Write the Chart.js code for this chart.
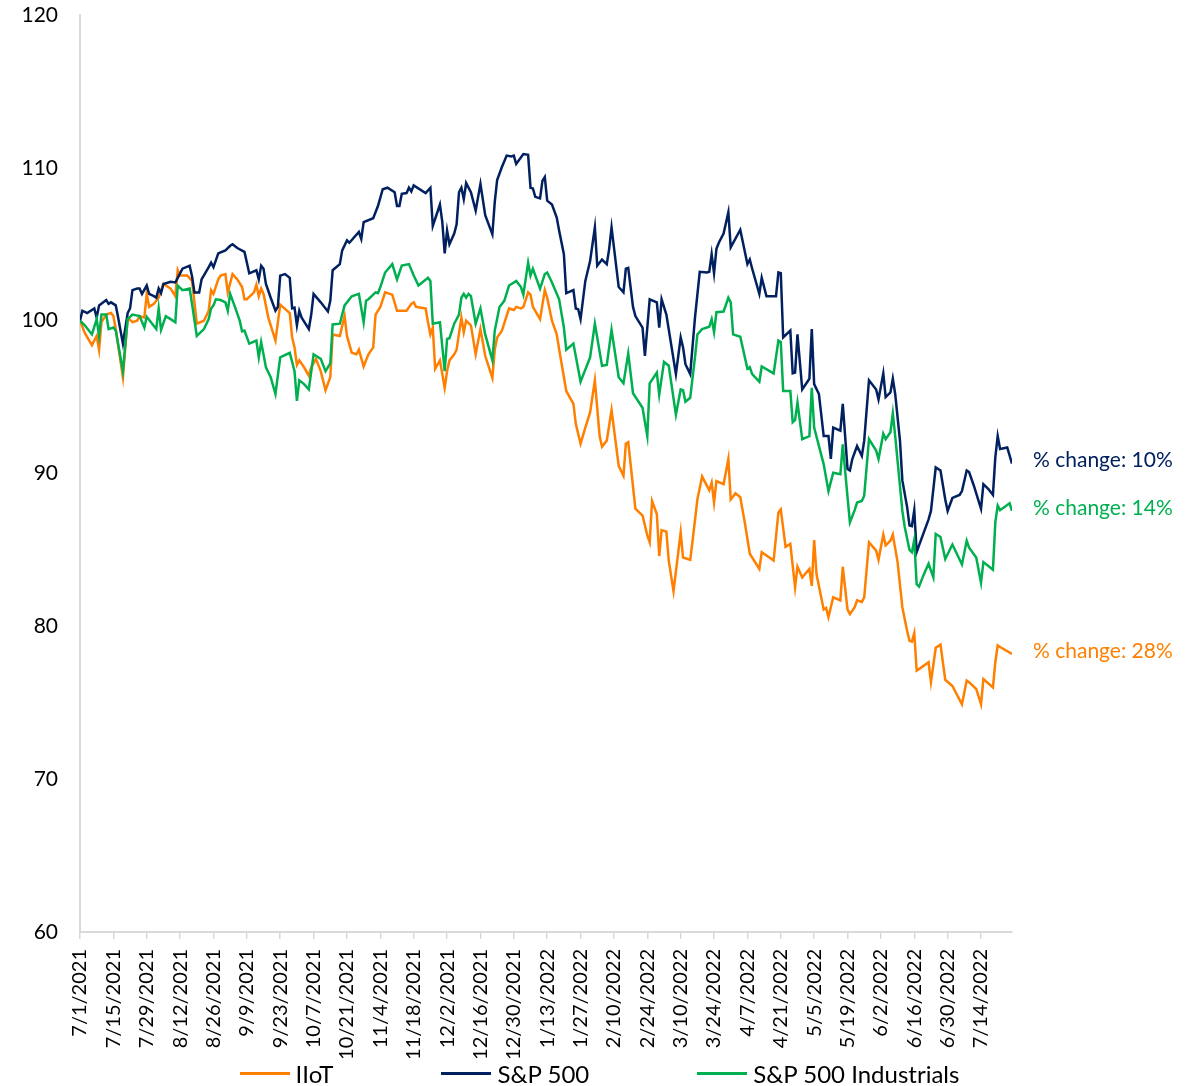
<!DOCTYPE html>
<html>
<head>
<meta charset="utf-8">
<title>IIoT vs S&amp;P 500</title>
<script src="https://cdn.jsdelivr.net/npm/chart.js@4.4.1/dist/chart.umd.min.js"></script>
<style>
    body { margin: 0; background: #ffffff; }
    #wrap { position: relative; width: 1199px; height: 1086px; }
    #legend {
        position: absolute; left: 0; top: 1056px; width: 1199px; height: 34px;
        display: flex; justify-content: center; align-items: center; gap: 108px;
        font-family: Lato, 'Open Sans', sans-serif; font-size: 24px; color: #000;
    }
    .item { display: flex; align-items: center; }
    .swatch { width: 50px; height: 3px; margin-right: 6px; }
</style>
</head>
<body>
<div id="wrap">
    <canvas id="perfChart" width="1199" height="1086"></canvas>
    <div id="legend"></div>
</div>
<script>
// Ngày tính từ 7/1/2021 (ngày 0)
const tickDays = [0, 14, 28, 42, 56, 70, 84, 98, 112, 126, 140, 154, 168, 182, 196, 210, 224, 238, 252, 266, 280, 294, 308, 322, 336, 350, 364, 378];

// IIoT
const iotDays = [0,2,5,7,8,9,11,13,14,15,18,20,22,24,25,27,28,29,31,33,35,38,40,41,42,45,47,49,52,54,55,56,58,59,61,62,64,66,68,69,70,73,74,75,76,77,79,82,84,88,89,90,91,92,94,96,97,99,101,103,105,106,109,111,112,114,116,117,119,120,121,123,124,126,128,130,131,133,137,139,140,141,145,146,147,148,149,151,153,154,155,157,158,160,161,162,164,166,168,170,173,174,175,177,180,182,183,185,186,188,189,190,193,195,196,198,200,201,204,207,208,210,212,214,216,218,219,221,223,226,228,229,230,233,236,238,239,240,242,243,244,246,247,249,252,253,256,257,259,261,264,265,266,267,270,272,273,275,277,279,281,285,286,291,293,294,296,298,300,301,303,306,307,308,309,312,313,314,316,319,320,322,323,325,326,328,329,331,334,335,337,338,340,341,343,345,347,348,349,350,351,352,356,357,359,361,363,366,370,372,373,376,378,379,383,384,385,386,391];
const iotValues = [100.0,99.2,98.4,99.0,98.1,99.9,100.4,100.5,100.3,99.45,96.3,100.2,99.9,100.0,100.3,100.2,101.75,100.9,101.1,101.5,102.4,102.1,101.6,103.3,102.95,102.95,102.6,99.8,100.0,100.65,102.0,101.75,102.7,102.95,103.05,101.85,103.05,102.7,102.2,101.4,101.4,101.85,102.35,101.6,102.1,101.75,100.2,98.7,101.05,100.5,98.9,98.25,97.1,97.4,96.95,96.4,96.95,97.5,96.7,95.45,96.3,99.1,99.0,100.3,99.0,97.9,97.8,98.1,97.0,97.4,97.8,98.25,100.4,100.9,101.85,101.75,101.7,100.65,100.65,101.1,101.2,100.9,100.8,99.9,99.1,99.55,96.85,97.4,95.6,96.7,97.4,97.8,98.1,100.2,99.25,100.0,99.7,97.8,99.45,97.7,96.25,98.1,98.9,99.35,100.8,100.7,100.9,100.8,100.9,101.85,101.7,100.9,100.1,102.0,101.5,100.0,99.1,98.15,95.4,94.55,93.25,91.95,93.0,94.0,96.1,92.45,91.75,92.15,94.15,90.5,89.85,91.95,92.05,87.7,87.25,85.95,85.5,88.2,87.35,84.6,86.3,86.2,84.3,82.3,86.15,84.5,84.35,85.6,88.3,89.8,88.9,89.4,88.1,89.5,89.3,90.95,88.3,88.7,88.45,86.7,84.75,83.75,84.85,84.3,87.45,87.65,85.2,85.4,82.55,83.9,83.2,83.75,82.65,85.65,83.4,81.1,81.2,80.6,81.9,81.7,83.9,81.1,80.8,81.25,81.7,81.6,81.9,85.5,84.95,84.35,86.0,85.3,85.6,86.0,84.2,81.25,79.7,79.05,79.0,79.55,77.1,77.2,77.65,76.35,78.6,78.8,76.5,76.1,74.9,76.45,76.35,75.9,74.9,76.55,76.0,77.65,78.75,78.65,78.2];

// S&P 500
const spxDays = [0,1,3,6,7,8,11,12,13,15,16,18,20,21,22,24,25,26,28,29,31,32,33,34,35,38,40,41,43,46,47,48,50,51,54,55,56,58,61,63,64,66,69,70,71,74,75,76,77,78,80,82,83,84,86,88,89,90,91,92,93,96,97,98,101,104,105,106,109,110,112,113,117,118,119,123,125,127,129,132,133,134,135,137,138,139,140,145,147,148,151,152,153,154,155,157,158,159,160,161,162,164,166,168,170,173,174,175,177,179,181,182,183,186,188,189,190,191,193,194,195,196,198,200,201,203,204,207,208,209,210,212,214,215,216,217,219,221,222,223,226,228,229,230,232,233,236,237,239,242,243,244,246,250,252,253,254,256,258,260,263,264,265,266,267,268,270,272,273,277,280,281,282,285,286,288,292,293,294,295,298,299,300,301,303,306,307,308,310,312,314,315,316,319,320,322,323,324,326,328,329,331,334,335,337,338,340,341,342,344,345,347,348,349,350,351,352,356,357,359,361,363,364,366,369,370,372,373,375,377,378,379,381,383,384,385,386,389,391];
const spxValues = [100.0,100.65,100.5,100.8,100.2,101.0,101.35,101.1,101.2,101.0,100.2,98.5,100.5,100.8,102.0,102.1,102.1,101.75,102.3,101.75,101.6,101.5,102.1,101.8,102.4,102.55,102.5,102.8,103.4,103.6,102.9,101.85,101.85,102.7,103.5,103.8,103.5,104.4,104.6,104.9,105.0,104.75,104.5,103.8,103.1,103.3,102.7,103.6,103.4,102.4,101.5,100.65,100.9,102.95,103.05,102.8,100.8,100.85,99.7,100.65,100.2,99.45,100.4,101.75,101.2,100.6,101.3,103.3,103.7,104.6,105.25,105.1,105.8,105.35,106.45,106.7,107.5,108.6,108.7,108.4,107.5,107.5,108.3,108.35,108.7,108.45,108.85,108.35,108.7,106.2,107.6,106.45,104.4,105.9,105.0,105.7,106.3,108.4,108.7,107.95,109.0,108.4,107.2,108.95,106.9,105.65,107.75,109.2,110.05,110.8,110.75,110.8,110.25,110.9,110.85,108.7,108.65,108.1,108.0,109.15,109.4,107.85,107.6,106.75,105.9,104.35,101.8,102.0,100.8,100.75,100.1,102.6,103.9,105.0,106.1,103.6,104.0,103.7,104.7,106.1,102.2,101.85,103.4,103.45,100.9,100.3,99.55,97.7,101.4,101.2,99.55,101.4,100.4,96.5,98.9,98.25,97.15,96.5,100.2,103.2,103.15,103.2,104.35,103.1,104.7,105.1,105.7,107.1,104.8,105.95,103.7,104.0,103.4,101.75,102.8,101.6,101.6,103.15,103.1,98.9,99.35,96.55,96.6,99.1,95.5,96.2,99.45,95.85,95.2,92.45,92.45,90.95,93.0,92.8,94.55,90.3,90.2,90.95,91.8,91.15,92.15,96.1,95.5,94.85,96.55,95.0,95.3,96.2,95.2,92.15,89.55,87.8,86.6,86.55,87.6,84.85,85.3,87.0,87.55,90.4,90.2,88.3,87.55,88.4,88.6,88.85,90.2,90.1,89.2,88.2,87.7,89.3,89.0,88.6,91.05,92.45,91.6,91.7,90.65];

// S&P 500 Industrials
const indDays = [0,2,5,7,8,9,11,12,14,15,18,20,22,25,27,28,32,33,34,36,38,40,41,43,46,47,49,52,54,55,56,57,59,61,62,63,65,67,68,69,71,74,75,76,78,80,82,84,88,90,91,92,94,96,98,101,103,105,106,109,111,114,117,119,120,121,124,125,126,128,131,133,135,138,140,142,146,147,148,151,153,154,155,157,159,160,161,162,163,164,166,168,170,173,174,176,178,180,182,183,185,186,188,189,190,193,195,196,198,201,203,204,207,210,214,216,219,221,223,226,228,230,232,236,238,239,242,243,245,247,250,252,253,254,256,258,259,261,264,265,266,267,270,272,273,274,277,280,281,282,285,286,291,293,294,295,298,299,300,301,303,306,307,308,312,314,316,319,320,322,323,325,326,328,329,331,334,335,337,338,340,341,342,345,346,348,349,350,351,352,354,356,358,359,361,363,366,370,372,373,376,378,379,383,384,385,386,390,391];
const indValues = [100.0,99.7,99.1,100.1,99.0,100.4,100.4,99.45,99.55,99.35,96.7,100.1,100.4,100.3,99.55,100.25,99.45,100.8,99.4,100.3,100.1,99.9,102.3,102.0,102.1,101.1,99.0,99.45,100.1,100.8,101.0,101.4,101.35,101.2,100.65,101.75,100.9,100.0,99.3,99.35,98.5,98.7,97.6,98.6,96.95,96.3,95.2,97.6,97.9,96.7,94.75,96.1,95.85,95.5,97.8,97.5,96.7,97.2,99.75,99.8,101.0,101.6,101.75,99.9,101.3,101.4,101.85,101.8,102.2,103.15,103.7,102.7,103.6,103.7,102.95,102.3,102.8,102.6,99.8,99.9,96.7,98.8,98.85,99.8,100.4,101.5,101.75,101.5,101.75,101.6,99.8,100.8,99.1,97.4,99.35,100.9,101.3,102.3,102.5,102.6,102.2,101.7,103.8,102.95,103.4,102.1,103.05,103.15,102.5,101.4,99.55,98.1,98.5,96.0,97.6,99.8,97.05,97.1,99.4,96.3,95.9,97.85,95.25,94.3,92.45,95.9,96.6,95.15,97.3,97.05,93.85,95.5,95.45,94.7,94.95,97.6,99.1,99.45,99.6,100.1,99.25,100.55,100.6,101.5,101.2,99.1,98.95,96.85,96.95,96.5,96.0,97.0,96.55,98.7,98.6,95.4,95.4,93.35,93.5,94.65,92.25,92.45,95.6,93.0,90.6,88.85,90.05,89.95,91.9,88.45,86.8,87.6,88.1,88.2,88.55,92.25,91.5,90.95,92.6,92.25,92.7,93.95,92.45,87.55,86.5,85.0,84.85,85.65,82.75,82.6,83.4,84.1,83.2,86.05,85.85,84.4,85.35,84.05,85.6,85.15,84.5,82.85,84.2,83.7,86.8,87.9,87.6,88.05,87.55];

const seriesNames = ['IIoT', 'S&P 500', 'S&P 500 Industrials'];
const seriesColors = ['#FF7F00', '#002060', '#00B050'];
const changeLabels = ['% change: 28%', '% change: 10%', '% change: 14%'];

const FONT = 'Lato, "Open Sans", sans-serif';

function toPoints(days, values) {
    return days.map((d, i) => ({ x: d, y: values[i] }));
}

// Ngày 0 = 7/1/2021 -> nhãn dạng m/d/yyyy
function dayLabel(d) {
    const dt = new Date(2021, 6, 1 + d);
    return `${dt.getMonth() + 1}/${dt.getDate()}/${dt.getFullYear()}`;
}

// Ghi chú % thay đổi ở cuối mỗi đường
const endLabels = {
    id: 'endLabels',
    afterDatasetsDraw(chart) {
        const ctx = chart.ctx;
        const yScale = chart.scales.y;
        const x = chart.chartArea.right + 21;
        ctx.save();
        ctx.font = `21px ${FONT}`;
        ctx.textAlign = 'left';
        ctx.textBaseline = 'middle';
        chart.data.datasets.forEach((ds, i) => {
            const last = ds.data[ds.data.length - 1].y;
            ctx.fillStyle = seriesColors[i];
            ctx.fillText(changeLabels[i], x, yScale.getPixelForValue(last) - 3);
        });
        ctx.restore();
    }
};

const perfChart = new Chart(document.getElementById('perfChart'), {
    type: 'line',
    data: {
        datasets: [
            { label: seriesNames[0], data: toPoints(iotDays, iotValues), borderColor: seriesColors[0], order: 2 },
            { label: seriesNames[1], data: toPoints(spxDays, spxValues), borderColor: seriesColors[1], order: 1 },
            { label: seriesNames[2], data: toPoints(indDays, indValues), borderColor: seriesColors[2], order: 0 }
        ]
    },
    options: {
        responsive: false,
        animation: false,
        devicePixelRatio: 1,
        layout: { padding: { top: 15, right: 187, bottom: 0, left: 0 } },
        elements: {
            line: { borderWidth: 2.5, tension: 0, fill: false },
            point: { radius: 0 }
        },
        scales: {
            x: {
                type: 'linear',
                min: 0,
                max: 391,
                afterBuildTicks: (scale) => { scale.ticks = tickDays.map(v => ({ value: v })); },
                afterFit: (scale) => { scale.height = 154; },
                ticks: {
                    autoSkip: false,
                    minRotation: 90,
                    maxRotation: 90,
                    padding: 10,
                    color: '#000',
                    font: { family: FONT, size: 20 },
                    callback: (value) => dayLabel(value)
                },
                grid: { drawOnChartArea: false, drawTicks: true, tickLength: 7, color: '#d9d9d9', lineWidth: 1.5 },
                border: { display: true, color: '#d9d9d9', width: 2 }
            },
            y: {
                min: 60,
                max: 120,
                afterFit: (scale) => {
                    scale.width = 80;
                    scale.paddingTop = 0;
                    scale.paddingBottom = 0;
                },
                ticks: {
                    stepSize: 10,
                    padding: 22,
                    color: '#000',
                    font: { family: FONT, size: 21 }
                },
                grid: { display: false, drawTicks: false },
                border: { display: true, color: '#d9d9d9', width: 2 }
            }
        },
        plugins: {
            legend: { display: false },
            tooltip: { enabled: false }
        }
    },
    plugins: [endLabels]
});

// Chú giải bên dưới biểu đồ
const legendBox = document.getElementById('legend');
perfChart.data.datasets.forEach(ds => {
    const item = document.createElement('div');
    item.className = 'item';
    const swatch = document.createElement('span');
    swatch.className = 'swatch';
    swatch.style.background = ds.borderColor;
    const text = document.createElement('span');
    text.textContent = ds.label;
    item.appendChild(swatch);
    item.appendChild(text);
    legendBox.appendChild(item);
});
</script>
</body>
</html>
